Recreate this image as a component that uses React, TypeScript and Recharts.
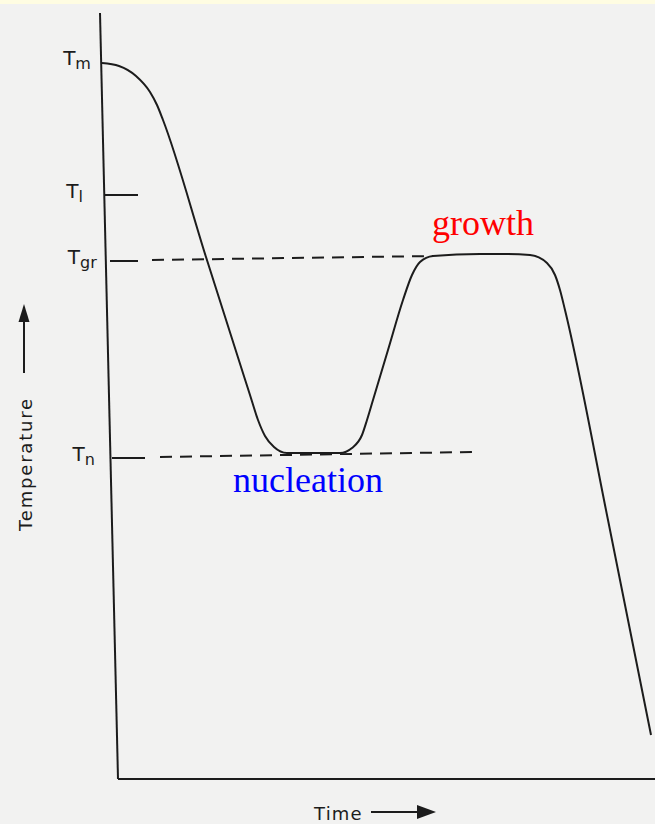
import { ComposedChart, Line, XAxis, YAxis, ReferenceLine, Customized } from "recharts";

// time (arbitrary units) and temperature (arbitrary units)
const time = [2, 19, 36, 50, 57, 63, 106, 150, 158, 165, 174, 187, 240, 252, 262, 267, 273, 288, 303, 312, 320, 333, 380, 400, 430, 447, 455, 460, 465, 508, 551];
const temp = [716, 713, 703, 687, 674, 659, 522, 384, 359, 343, 332, 326, 326, 331, 344, 359, 379, 429, 479, 504, 517, 523, 525, 525, 524, 516, 504, 489, 469, 259, 44];

const levels = [321, 518, 584, 717];
const levelSubs = ["n", "gr", "l", "m"];

const data = time.map((t, i) => ({ t, T: temp[i] }));

const W = 655;
const H = 824;
const INK = "#1c1c1c";

// axis is slightly tilted in the scan
const axisX = (py: number) => 100 + (py - 13) * 0.0235;

function LevelTick({ y, payload }: any) {
  const i = levels.indexOf(payload.value);
  const x = axisX(y) - 38;
  return (
    <text x={x} y={y + 3} fontFamily="DejaVu Sans" fontSize={20} fill={INK}>
      T
      <tspan fontSize={16} dy={4}>{levelSubs[i]}</tspan>
    </text>
  );
}

function Notes() {
  return (
    <g>
      <text x={432} y={235} fontFamily="Liberation Serif" fontSize={36} fill="#ff0000">growth</text>
      <text x={233} y={492} fontFamily="Liberation Serif" fontSize={36} fill="#0000ff">nucleation</text>
      <text x={32} y={464} transform="rotate(-90 32 464)" textAnchor="middle" fontFamily="DejaVu Sans" fontSize={18} letterSpacing={1.8} fill={INK}>
        Temperature
      </text>
      <line x1={24} y1={373} x2={24} y2={318} stroke={INK} strokeWidth={2} />
      <path d="M24 304 L18.5 322 L29.5 322 Z" fill={INK} />
      <text x={314} y={820} fontFamily="DejaVu Sans" fontSize={18} letterSpacing={1.2} fill={INK}>Time</text>
      <line x1={371} y1={812} x2={420} y2={812} stroke={INK} strokeWidth={2} />
      <path d="M417 805 L436 812 L417 819 Z" fill={INK} />
    </g>
  );
}

export default function App() {
  return (
    <div style={{ position: "absolute", left: 0, top: 0, width: W, height: H, background: "#f2f2f1" }}>
      <div style={{ position: "absolute", left: 0, top: 0, width: W, height: 4, background: "#fffde2" }} />
      <ComposedChart width={W} height={H} data={data} margin={{ top: 13, right: 0, bottom: 45, left: 0 }} style={{ position: "absolute", left: 0, top: 0 }}>
        <XAxis type="number" dataKey="t" domain={[0, 555]} hide />
        <YAxis type="number" domain={[0, 766]} ticks={levels} width={100} axisLine={false} tickLine={false} tick={<LevelTick />} interval={0} />
        {/* axes */}
        <ReferenceLine segment={[{ x: 0, y: 766 }, { x: 18, y: 0 }]} stroke={INK} strokeWidth={2} ifOverflow="visible" />
        <ReferenceLine segment={[{ x: 18, y: 0 }, { x: 555, y: 0 }]} stroke={INK} strokeWidth={2} ifOverflow="visible" />
        {/* level marks */}
        <ReferenceLine segment={[{ x: 5, y: 584 }, { x: 38, y: 584 }]} stroke={INK} strokeWidth={2} ifOverflow="visible" />
        <ReferenceLine segment={[{ x: 10, y: 518 }, { x: 38, y: 518 }]} stroke={INK} strokeWidth={2} ifOverflow="visible" />
        <ReferenceLine segment={[{ x: 52, y: 519 }, { x: 333, y: 523 }]} stroke={INK} strokeWidth={2} strokeDasharray="12 8" ifOverflow="visible" />
        <ReferenceLine segment={[{ x: 12, y: 321 }, { x: 45, y: 321 }]} stroke={INK} strokeWidth={2} ifOverflow="visible" />
        <ReferenceLine segment={[{ x: 60, y: 322 }, { x: 373, y: 327 }]} stroke={INK} strokeWidth={2} strokeDasharray="12 8" ifOverflow="visible" />
        <Line type="monotone" dataKey="T" stroke={INK} strokeWidth={2} dot={false} isAnimationActive={false} />
        <Customized component={Notes} />
      </ComposedChart>
    </div>
  );
}
